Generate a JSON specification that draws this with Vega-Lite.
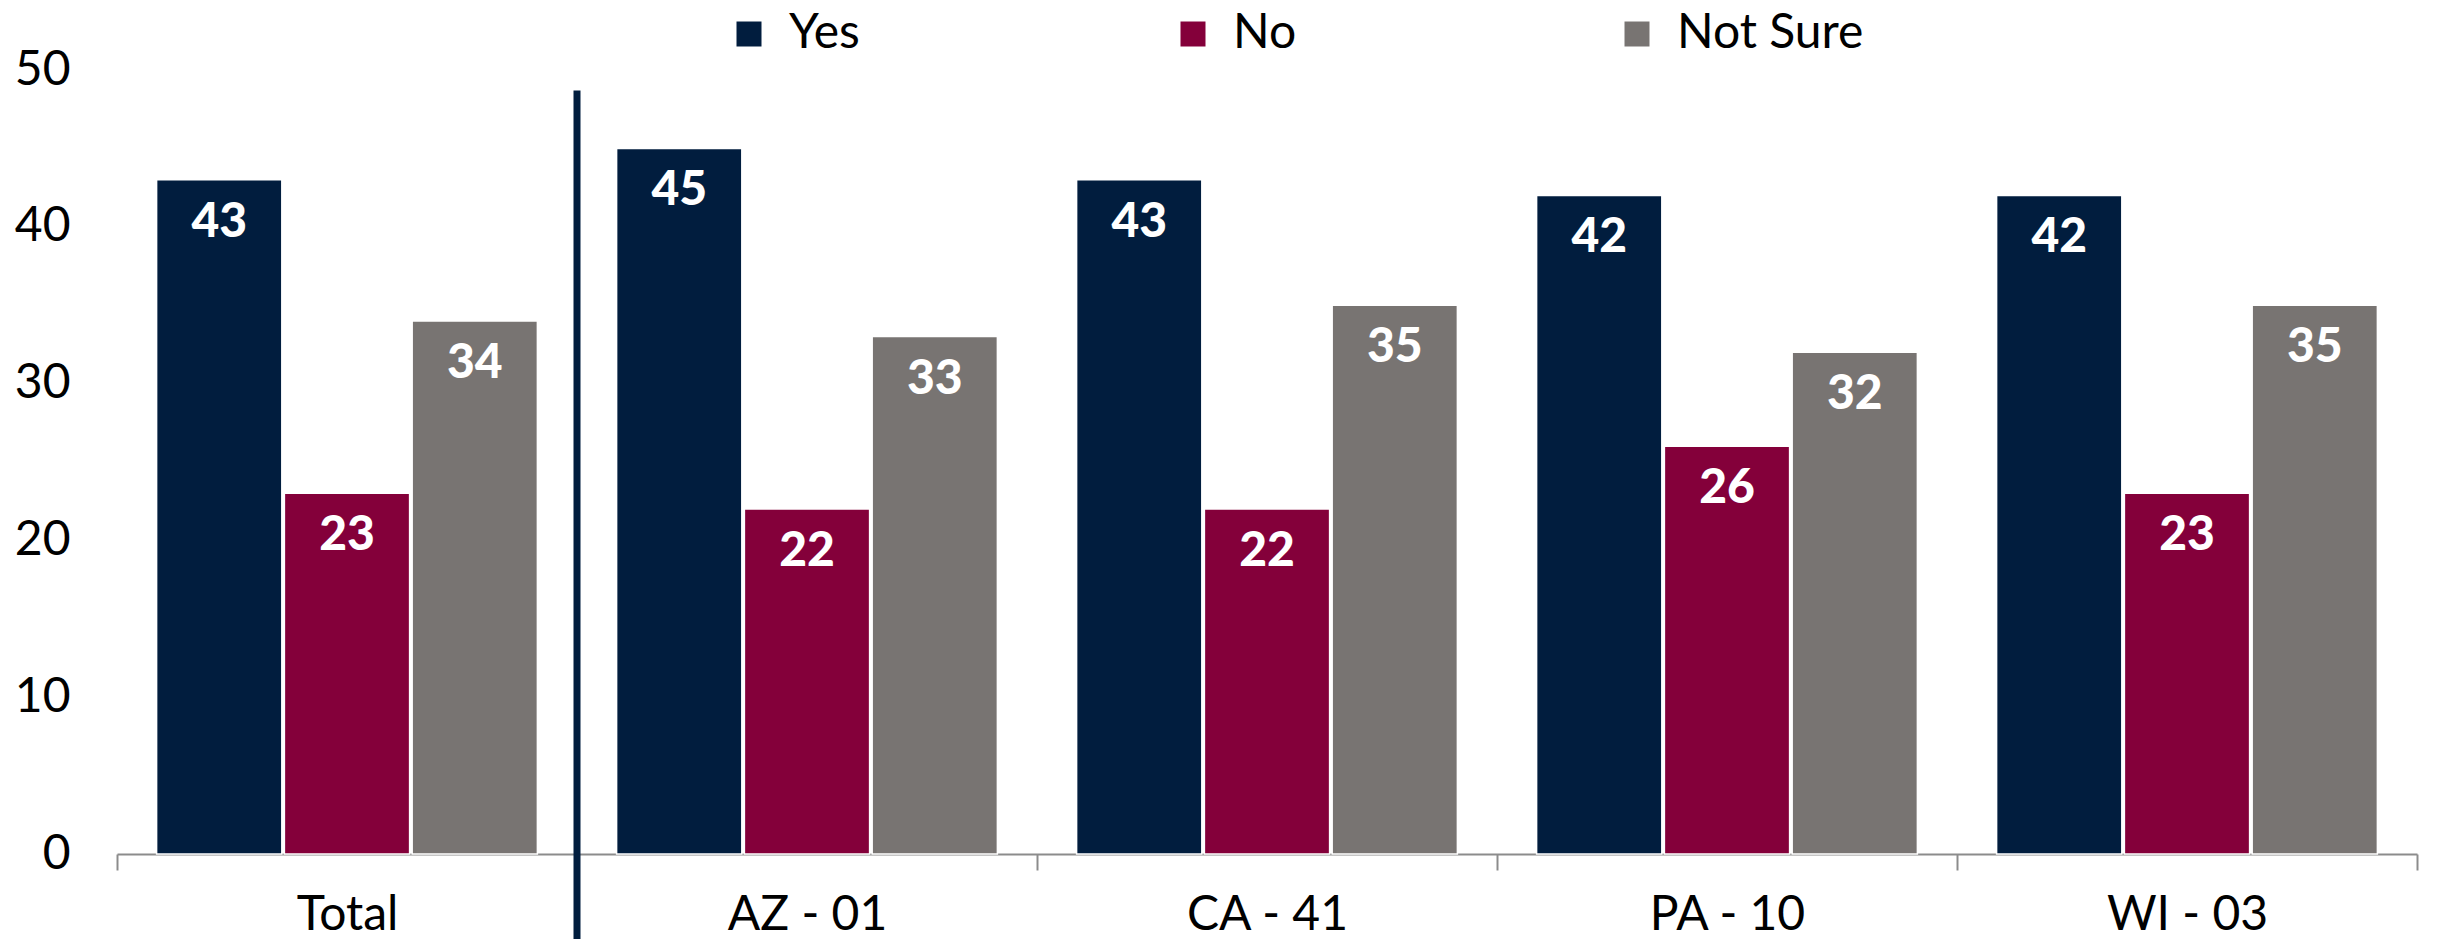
{
  "$schema": "https://vega.github.io/schema/vega-lite/v6.json",
  "width": 2300,
  "height": 784,
  "autosize": {"type": "none"},
  "padding": {"left": 117, "top": 70, "right": 20, "bottom": 85},
  "background": "white",
  "config": {"view": {"stroke": null}, "font": "Lato, sans-serif"},
  "data": {
    "values": [
      {"group": "Total", "answer": "Yes", "value": 43},
      {"group": "Total", "answer": "No", "value": 23},
      {"group": "Total", "answer": "Not Sure", "value": 34},
      {"group": "AZ - 01", "answer": "Yes", "value": 45},
      {"group": "AZ - 01", "answer": "No", "value": 22},
      {"group": "AZ - 01", "answer": "Not Sure", "value": 33},
      {"group": "CA - 41", "answer": "Yes", "value": 43},
      {"group": "CA - 41", "answer": "No", "value": 22},
      {"group": "CA - 41", "answer": "Not Sure", "value": 35},
      {"group": "PA - 10", "answer": "Yes", "value": 42},
      {"group": "PA - 10", "answer": "No", "value": 26},
      {"group": "PA - 10", "answer": "Not Sure", "value": 32},
      {"group": "WI - 03", "answer": "Yes", "value": 42},
      {"group": "WI - 03", "answer": "No", "value": 23},
      {"group": "WI - 03", "answer": "Not Sure", "value": 35}
    ]
  },
  "layer": [
    {
      "mark": {"type": "bar", "stroke": "white", "strokeWidth": 1.5},
      "encoding": {
        "x": {
          "field": "group", "type": "nominal",
          "sort": ["Total", "AZ - 01", "CA - 41", "PA - 10", "WI - 03"],
          "scale": {"paddingInner": 0, "paddingOuter": 0},
          "axis": {
            "title": null, "labelAngle": 0, "labelFontSize": 48, "labelColor": "#000000",
            "domainColor": "#8c8c8c", "domainWidth": 2, "tickColor": "#8c8c8c", "tickWidth": 2,
            "tickSize": 16, "tickBand": "extent", "labelPadding": 21, "grid": false
          }
        },
        "xOffset": {
          "field": "answer", "type": "nominal", "sort": ["Yes", "No", "Not Sure"],
          "scale": {"paddingInner": 0.02, "paddingOuter": 0.31}
        },
        "y": {
          "field": "value", "type": "quantitative",
          "scale": {"domain": [0, 50], "nice": false},
          "axis": {
            "title": null, "values": [0, 10, 20, 30, 40, 50], "labelFontSize": 48,
            "labelColor": "#000000", "labelPadding": 47, "ticks": false, "domain": false, "grid": false
          }
        },
        "color": {
          "field": "answer", "type": "nominal",
          "scale": {"domain": ["Yes", "No", "Not Sure"], "range": ["#011D3E", "#84003A", "#787472"]},
          "legend": {
            "title": null, "orient": "none", "direction": "horizontal", "columns": 3,
            "gridAlign": "all", "legendX": 608, "legendY": -60, "padding": 0,
            "labelFontSize": 48, "labelColor": "#000000", "labelOffset": 16, "labelLimit": 400,
            "symbolType": "square", "symbolSize": 625, "symbolStrokeWidth": 0,
            "columnPadding": 193
          }
        }
      }
    },
    {
      "mark": {"type": "text", "color": "white", "fontWeight": 900, "fontSize": 48, "baseline": "middle", "dy": 43, "font": "Lato"},
      "encoding": {
        "x": {"field": "group", "type": "nominal", "sort": ["Total", "AZ - 01", "CA - 41", "PA - 10", "WI - 03"]},
        "xOffset": {"field": "answer", "type": "nominal", "sort": ["Yes", "No", "Not Sure"]},
        "y": {"field": "value", "type": "quantitative"},
        "text": {"field": "value", "type": "quantitative"}
      }
    },
    {
      "data": {"values": [{}]},
      "mark": {"type": "rule", "color": "#011D3E", "strokeWidth": 7},
      "encoding": {
        "x": {"datum": "AZ - 01", "type": "nominal", "bandPosition": 0},
        "y": {"datum": 48.7, "type": "quantitative"},
        "y2": {"datum": -6}
      }
    }
  ]
}
